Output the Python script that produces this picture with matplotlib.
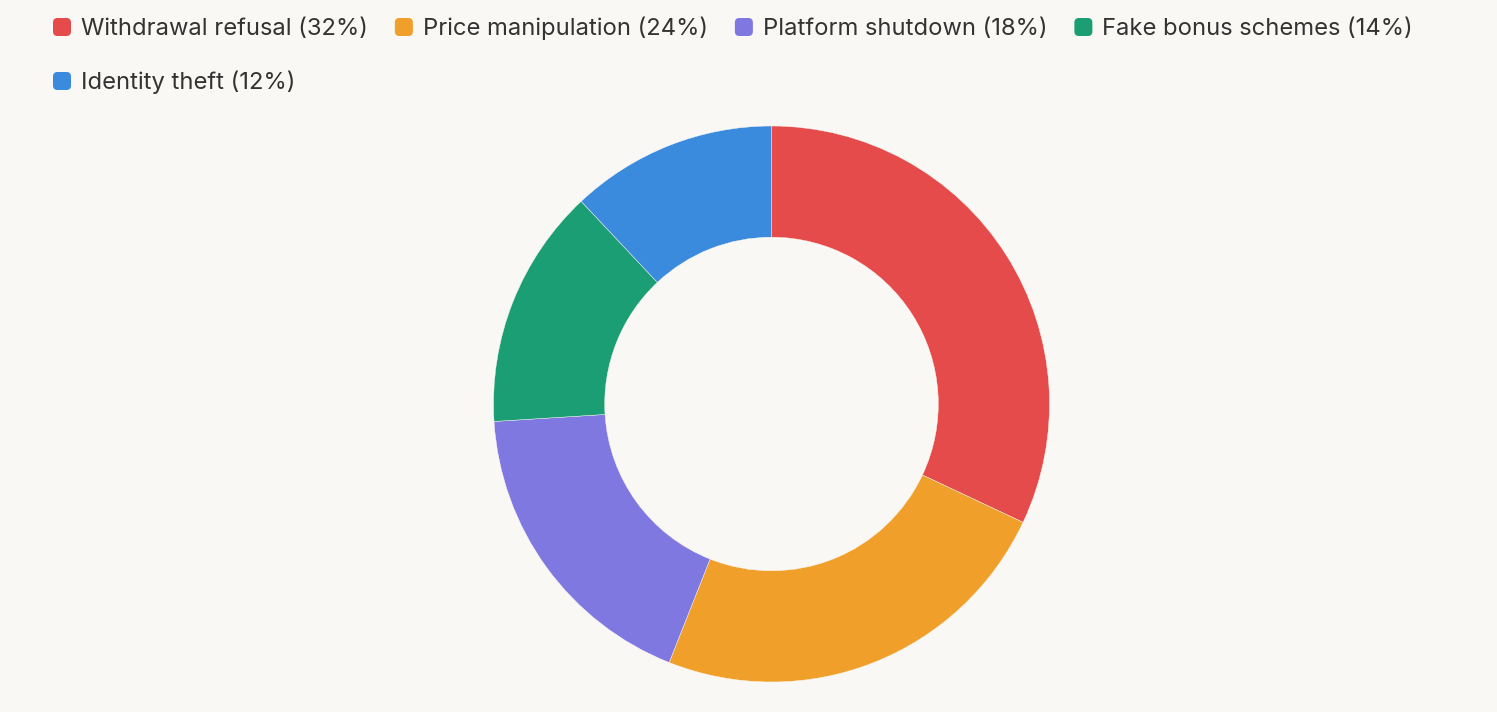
import matplotlib.pyplot as plt
from matplotlib.patches import FancyBboxPatch

# data
categorias = ['Withdrawal refusal', 'Price manipulation', 'Platform shutdown',
              'Fake bonus schemes', 'Identity theft']
valores = [32, 24, 18, 14, 12]
colores = ['#e44b4a', '#f0a02a', '#7f78e0', '#1c9e74', '#3a8ade']

fondo = '#faf8f4'
W, H = 1497, 712

fig = plt.figure(figsize=(W / 100, H / 100), dpi=100, facecolor=fondo)

# donut: centro (771, 404), radio 278 px
r_px = 278
cx, cy = 771.5, 404
ax = fig.add_axes([(cx - r_px) / W, 1 - (cy + r_px) / H, 2 * r_px / W, 2 * r_px / H])
ax.set_facecolor(fondo)
ax.pie(valores, colors=colores, startangle=90, counterclock=False,
       wedgeprops=dict(width=0.4, edgecolor=fondo, linewidth=0.3),
       radius=1.0)
ax.set_xlim(-1, 1)
ax.set_ylim(-1, 1)
ax.set_aspect('equal')
ax.axis('off')

# leyenda manual
renderer = fig.canvas.get_renderer()
x = 53
y_fila = [27, 81]
fila = 0
for cat, val, col in zip(categorias, valores, colores):
    etiqueta = f'{cat} ({val}%)'
    t = fig.text(0, 0, etiqueta, fontsize=17.1, family='Inter', color='#333333',
                 va='baseline', ha='left')
    ancho = t.get_window_extent(renderer).width
    if x + 28 + ancho > W - 40:
        fila += 1
        x = 53
    y = H - y_fila[fila]
    t.set_position(((x + 28) / W, (y - 8.5) / H))
    cuadro = FancyBboxPatch(((x) / W, (y - 9) / H), 18 / W, 18 / H,
                            boxstyle='round,pad=0,rounding_size=0.003',
                            transform=fig.transFigure, facecolor=col,
                            edgecolor='none', mutation_aspect=W / H)
    fig.patches.append(cuadro)
    x = x + 28 + ancho + 27

fig.savefig('out.png', dpi=100, facecolor=fondo)
